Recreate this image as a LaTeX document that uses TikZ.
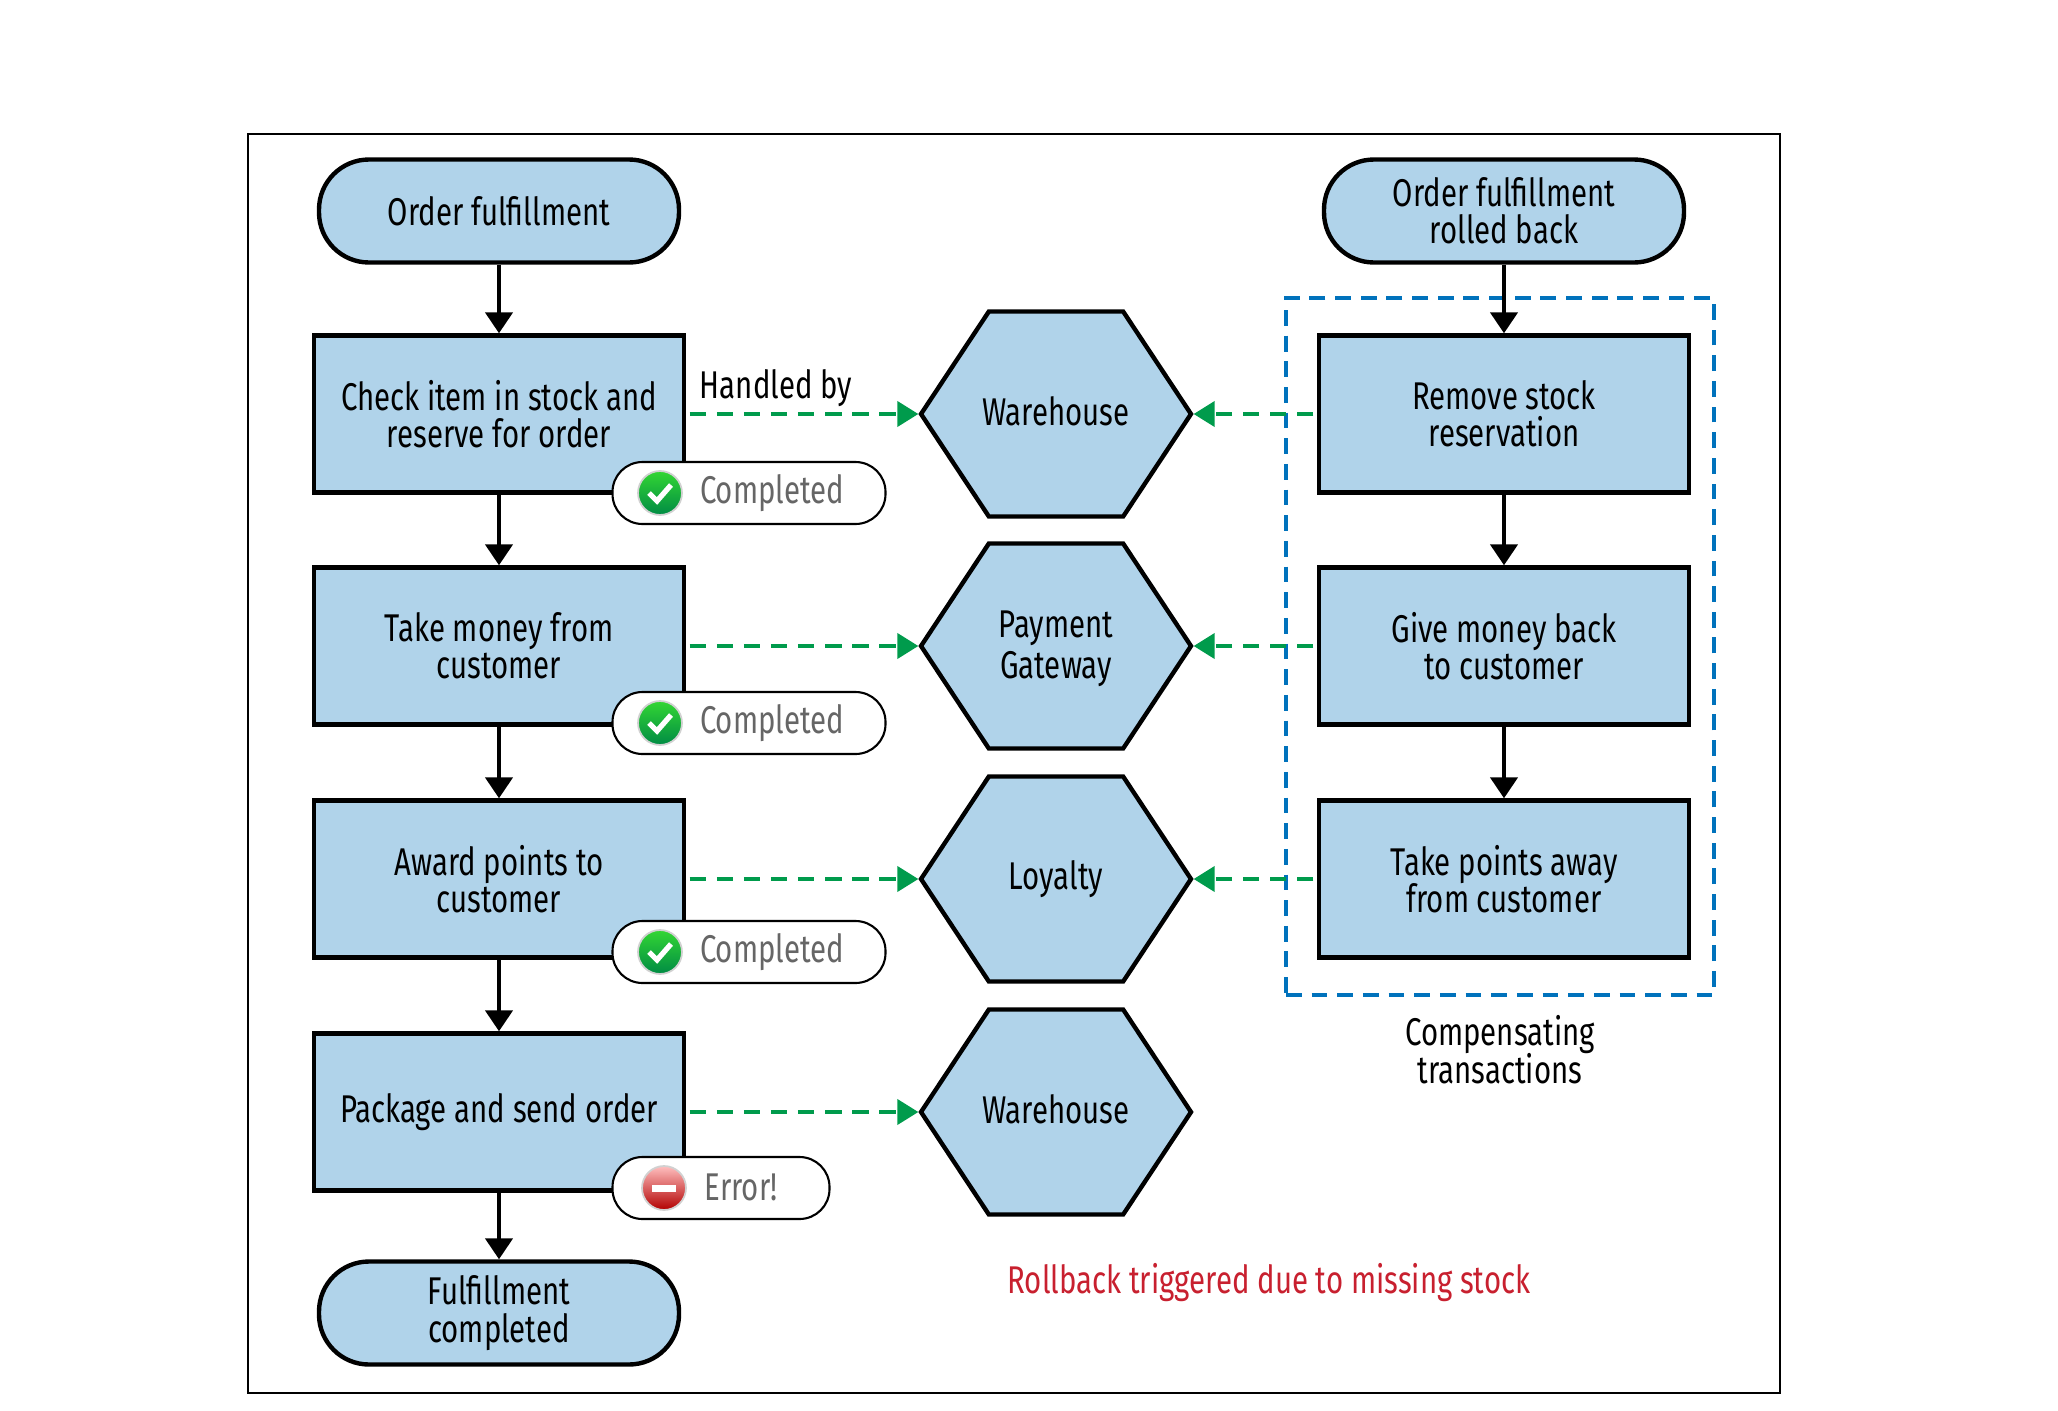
\documentclass[tikz,border=0pt]{standalone}
\usepackage{fontspec}
\setmainfont{Fira Sans}[FakeStretch=0.76]
\usetikzlibrary{arrows.meta, shapes.symbols}
\definecolor{BoxBlue}{HTML}{B0D3EA}
\definecolor{Handoff}{HTML}{009B4C}
\definecolor{Frame}{HTML}{0072BC}
\definecolor{Alert}{HTML}{C8202F}
\definecolor{Muted}{HTML}{666666}
\tikzset{
    stepbox/.style={draw, line width=1.25pt, fill=BoxBlue, minimum width=3.7cm, minimum height=1.57cm, align=center},
    endpill/.style={draw, line width=1.25pt, fill=BoxBlue, rounded corners=0.5cm, minimum width=3.6cm, minimum height=1.03cm, align=center},
    service/.style={draw, line width=1.25pt, fill=BoxBlue, shape=signal, signal to=east and west, signal pointer angle=113, minimum width=2.7cm, minimum height=2.05cm, inner sep=0pt},
    badge/.style={draw, line width=0.6pt, fill=white, rounded corners=0.3cm, minimum height=0.62cm, inner sep=0pt},
    icon/.style={circle, draw=black!18, line width=0.5pt, minimum size=0.44cm, inner sep=0pt},
    flow/.style={line width=1.25pt, -{Triangle[width=0.27cm, length=0.21cm]}},
    handoff/.style={Handoff, line width=1.1pt, dash pattern=on 4.7pt off 3pt, shorten <=1pt, -{Triangle[width=0.25cm, length=0.21cm]}},
}
\begin{document}
\begin{tikzpicture}[font=\fontsize{11pt}{10.6pt}\selectfont]
    \useasboundingbox (0, 0) rectangle (20.58, 14.1);
    \draw[line width=0.4pt] (2.48, 0.17) rectangle (17.8, 12.76);
    \node[draw=Frame, line width=1.1pt, dash pattern=on 4.5pt off 2.8pt, minimum width=4.28cm, minimum height=6.97cm] (undo) at (15, 7.635) {};
    \node[endpill] (start) at (4.99, 11.99) {Order fulfillment};
    \node[endpill] (done) at (4.99, 0.97) {Fulfillment\\completed};
    \node[endpill] (rollback) at (15.04, 11.99) {Order fulfillment\\rolled back};
    \foreach \n/\y/\txt in {check/9.96/{Check item in stock and\\reserve for order}, money/7.64/{Take money from\\customer}, points/5.31/{Award points to\\customer}, send/2.98/{Package and send order}} {
        \node[stepbox] (\n) at (4.99, \y) {\txt};
    }
    \foreach \n/\y/\txt in {unreserve/9.96/{Remove stock\\reservation}, refund/7.64/{Give money back\\to customer}, unpoint/5.31/{Take points away\\from customer}} {
        \node[stepbox] (\n) at (15.04, \y) {\txt};
    }
    \foreach \n/\y/\dy/\txt in {warehouse/9.96/0.03/{Warehouse}, payment/7.64/-0.03/{Payment\\[1pt]Gateway}, loyalty/5.31/0/{Loyalty}, shipping/2.98/0.03/{Warehouse}} {
        \node[service, label={[align=center, yshift=\dy cm]center:\txt}] (\n) at (10.56, \y) {};
    }
    \foreach \a/\b in {start/check, check/money, money/points, points/send, send/done, rollback/unreserve, unreserve/refund, refund/unpoint} {
        \draw[flow] (\a) -- (\b);
    }
    \foreach \a/\b in {check/warehouse, money/payment, points/loyalty, send/shipping, unreserve/warehouse, refund/payment, unpoint/loyalty} {
        \draw[handoff] (\a) -- (\b);
    }
    \foreach \n/\y in {1/9.17, 2/6.87, 3/4.58} {
        \node[badge, minimum width=2.73cm] (badge\n) at (7.49, \y) {};
        \node[text=Muted] (state\n) at (7.72, \y) {Completed};
        \node[icon, top color=green!80!black!80, bottom color=Handoff!90!black] (ok\n) at (6.6, \y) {};
        \draw[white, line width=1.5pt] ([shift={(-0.11, 0)}]ok\n.center) -- ([shift={(-0.03, -0.08)}]ok\n.center) -- ([shift={(0.11, 0.08)}]ok\n.center);
    }
    \node[badge, minimum width=2.17cm] (badge4) at (7.21, 2.22) {};
    \node[text=Muted] (state4) at (7.41, 2.23) {Error!};
    \node[icon, top color=red!25, bottom color=red!70!black] (stop) at (6.64, 2.22) {};
    \draw[white, line width=2pt] ([xshift=-0.12cm]stop.center) -- ([xshift=0.12cm]stop.center);
    \node (handled) at (7.76, 10.22) {Handled by};
    \node[align=center] (note) at (15, 3.6) {Compensating\\[-1.1pt]transactions};
    \node[text=Alert] (reason) at (12.69, 1.27) {Rollback triggered due to missing stock};
\end{tikzpicture}
\end{document}
